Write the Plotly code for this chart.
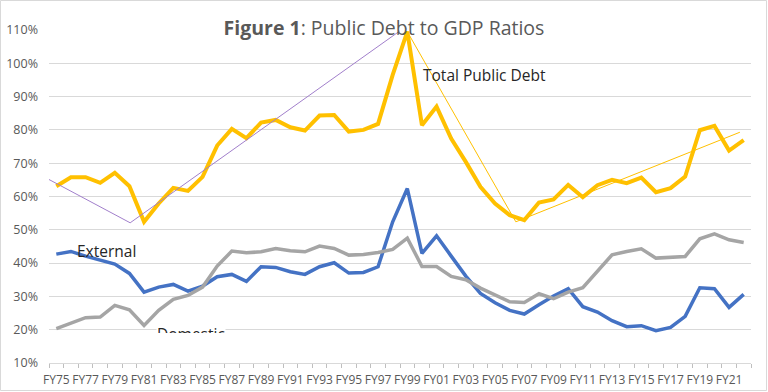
import plotly.graph_objects as go

years = [f"FY{y % 100:02d}" for y in range(1975, 2023)]

total_debt = [63.1, 65.8, 65.8, 64.1, 67.1, 63.1, 52.4, 57.9, 62.6, 61.7,
              65.9, 75.3, 80.3, 77.5, 82.2, 83.0, 80.8, 79.8, 84.3, 84.5,
              79.5, 80.0, 81.8, 96.5, 109.5, 81.4, 87.0, 77.4, 70.4, 62.9,
              57.9, 54.4, 52.9, 58.2, 59.1, 63.5, 59.8, 63.4, 65.0, 64.0,
              65.7, 61.3, 62.5, 66.0, 79.9, 81.2, 73.8, 76.9]

external_debt = [42.7, 43.5, 42.1, 40.9, 39.7, 36.9, 31.3, 32.8, 33.6, 31.6,
                 33.1, 35.9, 36.6, 34.5, 38.9, 38.7, 37.4, 36.6, 38.9, 40.1,
                 37.0, 37.2, 38.9, 52.4, 62.4, 42.9, 48.2, 42.1, 36.1, 30.9,
                 28.1, 25.8, 24.7, 27.5, 30.1, 32.3, 26.9, 25.3, 22.7, 20.9,
                 21.2, 19.7, 20.7, 24.0, 32.6, 32.3, 26.7, 30.6]

domestic_debt = [20.3, 22.0, 23.6, 23.8, 27.3, 26.0, 21.3, 25.8, 29.1, 30.3,
                 32.8, 39.1, 43.6, 43.1, 43.4, 44.4, 43.7, 43.4, 45.1, 44.4,
                 42.4, 42.6, 43.2, 44.1, 47.5, 39.0, 39.0, 36.0, 35.0, 32.5,
                 30.5, 28.4, 28.2, 30.8, 29.3, 31.3, 32.6, 37.7, 42.5, 43.5,
                 44.3, 41.5, 41.7, 42.0, 47.3, 48.8, 47.0, 46.2]

# hand-drawn trend lines (category position, percent)
purple_trend_x = [-1.14, 5.05, 23.45]
purple_trend_y = [66.6, 52.1, 109.6]
yellow_trend_x = [24.0, 31.42, 46.74]
yellow_trend_y = [109.5, 52.4, 79.3]

y_ticks = list(range(10, 111, 10))
x_label_idx = list(range(0, len(years), 2))
x_labels = [years[i] for i in x_label_idx]

FONT = "Open Sans"
GREY_TXT = "#595959"
GRID = "#d9d9d9"

xs = list(range(len(years)))

fig = go.Figure()
fig.add_trace(go.Scatter(x=xs, y=total_debt, mode="lines", name="Total Public Debt",
                         line=dict(color="#FFC000", width=4)))
fig.add_trace(go.Scatter(x=xs, y=external_debt, mode="lines", name="External",
                         line=dict(color="#4472C4", width=3.5)))
fig.add_trace(go.Scatter(x=xs, y=domestic_debt, mode="lines", name="Domestic",
                         line=dict(color="#A5A5A5", width=3.5)))
fig.add_trace(go.Scatter(x=purple_trend_x, y=purple_trend_y, mode="lines",
                         line=dict(color="#A17FCB", width=1), hoverinfo="skip"))
fig.add_trace(go.Scatter(x=yellow_trend_x, y=yellow_trend_y, mode="lines",
                         line=dict(color="#FFC000", width=1), hoverinfo="skip"))

fig.update_layout(
    width=768, height=392,
    margin=dict(l=49, r=17, t=30, b=29, autoexpand=False),
    paper_bgcolor="white", plot_bgcolor="white",
    showlegend=False,
    font=dict(family=FONT, size=12, color=GREY_TXT),
    title=dict(text="<b>Figure 1</b>: Public Debt to GDP Ratios",
               x=0.5, xref="container", xanchor="center",
               y=1 - 28 / 392, yref="container", yanchor="middle",
               font=dict(family=FONT, size=19.5, color=GREY_TXT)),
    xaxis=dict(range=[-0.5, len(years) - 0.5], tickmode="array",
               tickvals=x_label_idx, ticktext=x_labels, ticks="",
               showgrid=False, zeroline=False, showline=True,
               linecolor=GRID, linewidth=1, automargin=False,
               tickfont=dict(family=FONT, size=12, color=GREY_TXT),
               ticklabelstandoff=6,
               minor=dict(tickmode="linear", tick0=-0.5, dtick=1,
                          ticks="outside", ticklen=4, tickcolor="#bfbfbf",
                          showgrid=False)),
    yaxis=dict(range=[10, 110], tickmode="array", tickvals=y_ticks,
               ticktext=[f"{v}%" for v in y_ticks], ticks="",
               showgrid=True, gridcolor=GRID, gridwidth=1, zeroline=False,
               showline=False, automargin=False,
               tickfont=dict(family=FONT, size=12.5, color=GREY_TXT),
               ticklabelstandoff=10),
    shapes=[dict(type="rect", xref="paper", yref="paper",
                 x0=(0.5 - 49) / 702, x1=(766.5 - 49) / 702,
                 y0=(363 - 390.5) / 333, y1=(363 - 0.5) / 333,
                 line=dict(color=GRID, width=1), fillcolor="rgba(0,0,0,0)",
                 layer="below")],
)

label_font = dict(family=FONT, size=15.5, color="#262626")
fig.add_annotation(x=24.93, y=96.5, xref="x", yref="y", text="Total Public Debt",
                   showarrow=False, xanchor="left", yanchor="middle", font=label_font)
fig.add_annotation(x=1.25, y=43.6, xref="x", yref="y", text="External",
                   showarrow=False, xanchor="left", yanchor="middle", font=label_font)
fig.add_annotation(x=6.83, y=22.2, xref="x", yref="y", text="Domestic",
                   showarrow=False, xanchor="left", yanchor="top", font=label_font,
                   height=10, valign="top", bgcolor="white", borderpad=0)

fig.write_html("out.html",
               config={"displayModeBar": False},
               post_script="document.body.style.margin='0';document.body.style.overflow='hidden';")
